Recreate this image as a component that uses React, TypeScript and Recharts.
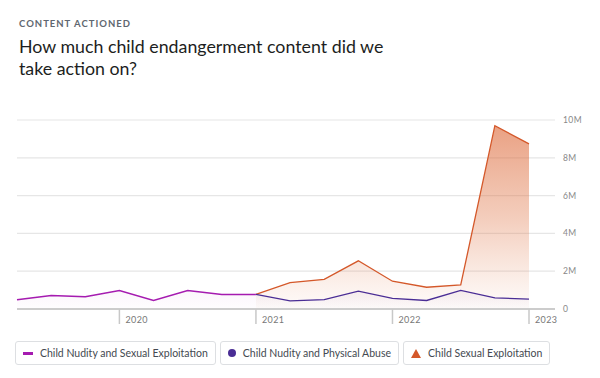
import React from 'react';
import { AreaChart, Area, XAxis, YAxis, CartesianGrid } from 'recharts';

const quarters = [
  '2019-04', '2019-07', '2019-10', '2020-01',
  '2020-04', '2020-07', '2020-10', '2021-01',
  '2021-04', '2021-07', '2021-10', '2022-01',
  '2022-04', '2022-07', '2022-10', '2023-01',
];

// values in millions, null where the series isn't reported
const nudityExploitation = [0.49, 0.72, 0.65, 0.98, 0.45, 0.98, 0.77, 0.77, null, null, null, null, null, null, null, null];
const nudityAbuse = [null, null, null, null, null, null, null, 0.77, 0.43, 0.5, 0.94, 0.56, 0.45, 0.98, 0.59, 0.52];
const sexualExploitation = [null, null, null, null, null, null, null, 0.77, 1.4, 1.57, 2.55, 1.47, 1.15, 1.27, 9.7, 8.74];

const yTicks = [0, 2, 4, 6, 8, 10];

const data = quarters.map((q, i) => ({
  q,
  cnse: nudityExploitation[i],
  cnpa: nudityAbuse[i],
  cse: sexualExploitation[i],
}));

const FONT = 'Lato, "Noto Sans", sans-serif';

const YearTick = (props: any) => {
  const { x, y, payload } = props;
  const v: string = payload.value;
  if (!v.endsWith('-01')) return null;
  return (
    <g>
      <line x1={x} y1={y - 8} x2={x} y2={y + 7} stroke="#c8c8c8" strokeWidth={1.5} />
      <text x={x + 6} y={y + 6} fontSize={9} fill="#777" fontFamily={FONT} letterSpacing={0.4}>
        {v.slice(0, 4)}
      </text>
    </g>
  );
};

const legendItems = [
  { name: 'Child Nudity and Sexual Exploitation', color: '#a51bb0', shape: 'dash' },
  { name: 'Child Nudity and Physical Abuse', color: '#4a2d95', shape: 'circle' },
  { name: 'Child Sexual Exploitation', color: '#d4582a', shape: 'triangle' },
];

const LegendIcon = ({ shape, color }: { shape: string; color: string }) => {
  const base = { display: 'inline-block', flexShrink: 0 } as React.CSSProperties;
  if (shape === 'dash') return <span style={{ ...base, width: 10, height: 3, background: color }} />;
  if (shape === 'circle') return <span style={{ ...base, width: 8, height: 8, borderRadius: 4, background: color }} />;
  return (
    <svg width={10} height={9} style={{ flexShrink: 0 }}>
      <polygon points="5,0 10,9 0,9" fill={color} />
    </svg>
  );
};

export default function App() {
  return (
    <div style={{ position: 'absolute', left: 0, top: 0, width: 600, height: 378, background: '#fff', fontFamily: FONT }}>
      <div style={{ position: 'absolute', left: 19, top: 18, fontSize: 9.5, letterSpacing: 1, color: '#606770', fontWeight: 700 }}>
        CONTENT ACTIONED
      </div>
      <div style={{ position: 'absolute', left: 19, top: 35, width: 400, fontSize: 17.8, lineHeight: '22px', color: '#1c1e21' }}>
        How much child endangerment content did we<br />take action on?
      </div>
      <div style={{ position: 'absolute', left: 0, top: 100 }}>
        <AreaChart width={600} height={235} data={data} margin={{ top: 20, right: 0, left: 17, bottom: 13 }}>
          <defs>
            <linearGradient id="gCse" x1="0" y1="0" x2="0" y2="1">
              <stop offset="0%" stopColor="#db6230" stopOpacity={1} />
              <stop offset="50%" stopColor="#e0784a" stopOpacity={0.62} />
              <stop offset="100%" stopColor="#e58a62" stopOpacity={0.05} />
            </linearGradient>
            <linearGradient id="gCnpa" x1="0" y1="0" x2="0" y2="1">
              <stop offset="0%" stopColor="#4a2d95" stopOpacity={0.08} />
              <stop offset="100%" stopColor="#4a2d95" stopOpacity={0.01} />
            </linearGradient>
            <linearGradient id="gCnse" x1="0" y1="0" x2="0" y2="1">
              <stop offset="0%" stopColor="#a51bb0" stopOpacity={0.07} />
              <stop offset="100%" stopColor="#a51bb0" stopOpacity={0.01} />
            </linearGradient>
          </defs>
          <CartesianGrid vertical={false} stroke="#e6e6e6" strokeWidth={1.2} />
          <XAxis
            dataKey="q"
            interval={0}
            tick={<YearTick />}
            tickLine={false}
            axisLine={{ stroke: '#cccccc', strokeWidth: 2 }}
            padding={{ left: 0, right: 26 }}
            height={13}
          />
          <YAxis
            orientation="right"
            domain={[0, 10]}
            ticks={yTicks}
            width={45}
            axisLine={false}
            tickLine={false}
            tickFormatter={(v: number) => (v === 0 ? '0' : `${v}M`)}
            tick={{ fontSize: 8.5, fill: '#888', fontFamily: FONT, textAnchor: 'start', letterSpacing: 0.4 }}
          />
          <Area type="linear" dataKey="cse" stroke="#d4582a" strokeWidth={1.3} fill="url(#gCse)" dot={false} activeDot={false} isAnimationActive={false} />
          <Area type="linear" dataKey="cnpa" stroke="#4a2d95" strokeWidth={1.3} fill="url(#gCnpa)" dot={false} activeDot={false} isAnimationActive={false} />
          <Area type="linear" dataKey="cnse" stroke="#a51bb0" strokeWidth={1.5} fill="url(#gCnse)" dot={false} activeDot={false} isAnimationActive={false} />
        </AreaChart>
      </div>
      <div style={{ position: 'absolute', left: 15, top: 341, display: 'flex', gap: 4 }}>
        {legendItems.map((it) => (
          <div
            key={it.name}
            style={{
              height: 24,
              boxSizing: 'border-box',
              border: '1px solid #dddfe2',
              borderRadius: 3,
              display: 'flex',
              alignItems: 'center',
              padding: '0 7px 0 7px',
              gap: 7,
              fontSize: 10.5,
              color: '#444950',
              whiteSpace: 'nowrap',
            }}
          >
            <LegendIcon shape={it.shape} color={it.color} />
            <span>{it.name}</span>
          </div>
        ))}
      </div>
    </div>
  );
}
